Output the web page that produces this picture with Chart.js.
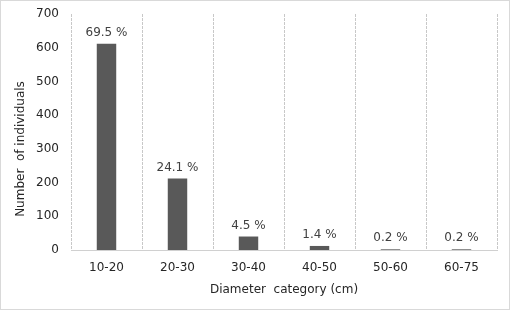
<!DOCTYPE html>
<html>
<head>
<meta charset="utf-8">
<script src="https://cdn.jsdelivr.net/npm/chart.js@4/dist/chart.umd.min.js"></script>
<style>
html,body{margin:0;padding:0;background:#fff;}
#wrap{position:absolute;left:0;top:0;width:508px;height:308px;border:1px solid #d9d9d9;background:#fff;}
canvas{display:block;}
</style>
</head>
<body>
<div id="wrap"><canvas id="c" width="508" height="308"></canvas></div>
<script>
const categories = ['10-20','20-30','30-40','40-50','50-60','60-75'];
const counts = [612, 212, 40, 12, 2, 2];
const percentLabels = ['69.5 %','24.1 %','4.5 %','1.4 %','0.2 %','0.2 %'];
const yTicks = [0,100,200,300,400,500,600,700];
const xTitle = 'Diameter  category (cm)';
const yTitle = 'Number  of individuals';

const FONT = '"DejaVu Sans", sans-serif';

const labelPlugin = {
  id: 'barLabels',
  afterDatasetsDraw(chart) {
    const ctx = chart.ctx;
    const meta = chart.getDatasetMeta(0);
    ctx.save();
    ctx.font = '12px ' + FONT;
    ctx.fillStyle = '#404040';
    ctx.textAlign = 'center';
    ctx.textBaseline = 'alphabetic';
    meta.data.forEach((bar, i) => {
      ctx.fillText(percentLabels[i], bar.x, bar.y - 8);
    });
    // y axis title
    ctx.translate(20, 148);
    ctx.rotate(-Math.PI / 2);
    ctx.fillStyle = '#262626';
    ctx.textBaseline = 'middle';
    ctx.fillText(yTitle, 0, 0);
    ctx.restore();
  }
};

new Chart(document.getElementById('c'), {
  type: 'bar',
  data: {
    labels: categories,
    datasets: [{
      data: counts,
      backgroundColor: '#595959',
      borderWidth: 0,
      categoryPercentage: 1.0,
      barPercentage: 0.274
    }]
  },
  options: {
    responsive: false,
    animation: false,
    events: [],
    layout: { padding: { left: 8, right: 12, top: 13, bottom: 0 } },
    plugins: { legend: { display: false }, tooltip: { enabled: false } },
    scales: {
      x: {
        offset: true,
        afterFit(axis) { axis.height = 59; },
        grid: {
          display: true,
          offset: true,
          color: '#c8c8c8',
          lineWidth: 1,
          drawTicks: false
        },
        border: { display: true, color: '#d0d0d0', width: 1, dash: [3, 1] },
        ticks: { color: '#262626', font: { family: FONT, size: 12 }, padding: 11, maxRotation: 0 },
        title: { display: true, text: xTitle, color: '#262626', font: { family: FONT, size: 12 }, padding: { top: 0, bottom: 12 } }
      },
      y: {
        min: 0, max: 700,
        afterBuildTicks(axis) { axis.ticks = yTicks.map(v => ({ value: v })); },
        afterFit(axis) { axis.width = 62; axis.paddingTop = 0; axis.paddingBottom = 0; },
        grid: { display: false, drawTicks: false },
        border: { display: false },
        ticks: { color: '#262626', font: { family: FONT, size: 12 }, padding: 12 }
      }
    }
  },
  plugins: [labelPlugin]
});
</script>
</body>
</html>
